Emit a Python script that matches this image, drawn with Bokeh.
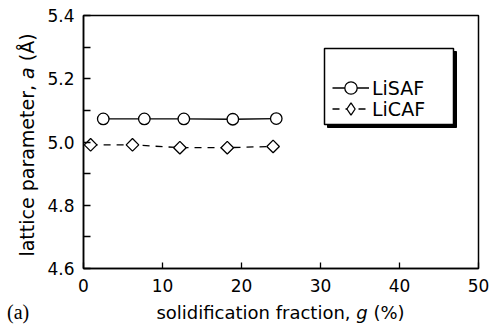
import numpy as np
from bokeh.plotting import figure
from bokeh.layouts import column
from bokeh.models import (Range1d, FixedTicker, BoxAnnotation, Legend, LegendItem,
                          ColumnDataSource, PrintfTickFormatter, Div)
from bokeh.embed import file_html
from bokeh.resources import INLINE

# ---- data ----
g_lisaf = [2.5, 7.7, 12.7, 18.9, 24.4]
a_lisaf = [5.073, 5.073, 5.073, 5.072, 5.074]
g_licaf = [0.9, 6.2, 12.2, 18.2, 24.0]
a_licaf = [4.991, 4.991, 4.982, 4.982, 4.986]
series_names = ["LiSAF", "LiCAF"]
x_ticks = [0, 10, 20, 30, 40, 50]
y_ticks = [4.6, 4.8, 5.0, 5.2, 5.4]
y_minor = [4.7, 4.9, 5.1, 5.3]

FONT = "DejaVu Sans"
W, H = 489, 327
ML, MR, MT, MB = 83, 11, 15, 59

p = figure(width=W, height=H, output_backend="svg", toolbar_location=None,
           x_range=Range1d(x_ticks[0], x_ticks[-1]), y_range=Range1d(y_ticks[0], y_ticks[-1]),
           min_border_left=ML, min_border_right=MR, min_border_top=MT, min_border_bottom=MB)
p.background_fill_color = "white"
p.border_fill_color = "white"
p.outline_line_color = "black"
p.outline_line_width = 1.5
p.grid.visible = False

p.xaxis.ticker = FixedTicker(ticks=x_ticks)
p.yaxis.ticker = FixedTicker(ticks=y_ticks, minor_ticks=y_minor)
p.yaxis.formatter = PrintfTickFormatter(format="%.1f")
for ax in (p.xaxis[0], p.yaxis[0]):
    ax.axis_line_width = 1.5
    ax.axis_line_color = "black"
    ax.major_tick_in = 7
    ax.major_tick_out = 0
    ax.minor_tick_in = 7
    ax.minor_tick_out = 0
    ax.major_tick_line_width = 1.3
    ax.minor_tick_line_width = 1.3
    ax.major_tick_line_color = "black"
    ax.minor_tick_line_color = "black"
    ax.major_label_text_font = FONT
    ax.major_label_text_font_size = "17px"
    ax.major_label_text_color = "black"
p.xaxis.major_tick_in = 6
p.yaxis.major_label_standoff = 9
p.xaxis.major_label_standoff = 10

src_s = ColumnDataSource(dict(x=g_lisaf, y=a_lisaf))
src_c = ColumnDataSource(dict(x=g_licaf, y=a_licaf))
l1 = p.line("x", "y", source=src_s, line_color="black", line_width=1.3)
s1 = p.scatter("x", "y", source=src_s, marker="circle", size=11.5,
               fill_color="white", line_color="black", line_width=1.3)
l2 = p.line("x", "y", source=src_c, line_color="black", line_width=1.3, line_dash="7 6")
s2 = p.scatter("x", "y", source=src_c, marker="square", angle=np.pi / 4, size=8.9,
               fill_color="white", line_color="black", line_width=1.3)
# legend-only key (legend keys ignore marker angle), not shown in the plot
s2_key = p.scatter("x", "y", source=src_c, marker="diamond", size=12,
                   fill_color="white", line_color="black", line_width=1.3, visible=False)

# legend frame with drop shadow (screen units, relative to the plot frame)
shadow = BoxAnnotation(left=244, right=373, top=217, bottom=141,
                       left_units="screen", right_units="screen",
                       top_units="screen", bottom_units="screen",
                       fill_color="black", fill_alpha=1.0, line_color="black", line_alpha=1.0)
box = BoxAnnotation(left=241, right=370, top=220, bottom=144,
                    left_units="screen", right_units="screen",
                    top_units="screen", bottom_units="screen",
                    fill_color="white", fill_alpha=1.0, line_color="black",
                    line_alpha=1.0, line_width=1.5)
p.add_layout(shadow)
p.add_layout(box)

leg_style = dict(orientation="vertical", padding=0, margin=0, spacing=0,
                 glyph_width=37, glyph_height=31, label_standoff=3,
                 label_text_font=FONT, label_text_font_size="19px",
                 label_text_color="black", border_line_alpha=0, background_fill_alpha=0)
leg1 = Legend(items=[LegendItem(label=series_names[0], renderers=[l1, s1])],
              location=(249, 165), **leg_style)
leg2 = Legend(items=[LegendItem(label=series_names[1], renderers=[l2, s2_key])],
              location=(249, 144), **leg_style)
p.add_layout(leg1)
p.add_layout(leg2)

# ---- axis titles (with italic symbols) and panel tag, overlaid as HTML ----
frame_cx = ML + (W - ML - MR) / 2
frame_cy = MT + (H - MT - MB) / 2
DY = -12          # measured offset of the overlay container
base_x = 319      # baseline of the x title / panel tag (px from top)
xs, ys = 18, 19
span = ("position:absolute;white-space:nowrap;color:black;margin:0;padding:0;")
html = (
    '<div style="position:relative;width:0;height:0;overflow:visible;">'
    f'<span style="{span}left:{frame_cx:.1f}px;top:{base_x - 15.2 - H + DY:.1f}px;'
    f'transform:translateX(-50%);font-family:\'{FONT}\';font-size:{xs}px;line-height:{xs}px;">'
    'solidification fraction, <i>g</i> (%)</span>'
    f'<span style="{span}left:26.5px;top:{frame_cy + 3.5 - H + DY:.1f}px;'
    f'transform:translate(-50%,-50%) rotate(-90deg);font-family:\'{FONT}\';'
    f'font-size:{ys}px;line-height:{ys}px;">lattice parameter, <i>a</i> (Å)</span>'
    f'<span style="{span}left:7px;top:{base_x - 16.7 - H + DY:.1f}px;'
    f'font-family:\'Liberation Serif\';font-size:20px;line-height:20px;">(a)</span>'
    '</div>'
)
titles = Div(text=html, width=W, height=0, margin=(0, 0, 0, 0),
             styles={"overflow": "visible"})

layout = column(p, titles, spacing=0)
open("out.html", "w").write(file_html(layout, INLINE))
